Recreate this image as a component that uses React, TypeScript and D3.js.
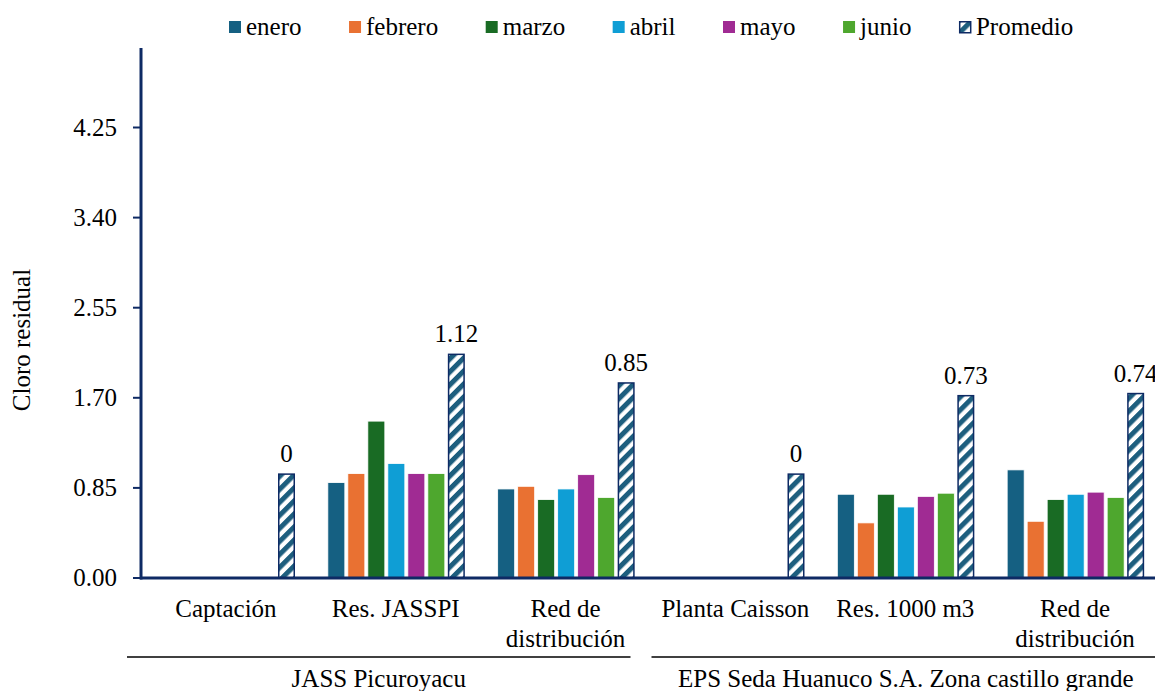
import React, { useLayoutEffect, useRef, useState } from "react";
import * as d3 from "d3";

const categories = ["Captación", "Res. JASSPI", "Red de distribución", "Planta Caisson", "Res. 1000 m3", "Red de distribución "];
const categoryLines = [["Captación"], ["Res. JASSPI"], ["Red de", "distribución"], ["Planta Caisson"], ["Res. 1000 m3"], ["Red de", "distribución"]];
const groups = ["JASS Picuroyacu", "EPS Seda Huanuco S.A. Zona castillo grande"];
const months = ["enero", "febrero", "marzo", "abril", "mayo", "junio"];
const enero = [0, 0.9, 0.84, 0, 0.79, 1.02];
const febrero = [0, 0.985, 0.865, 0, 0.52, 0.535];
const marzo = [0, 1.48, 0.74, 0, 0.79, 0.74];
const abril = [0, 1.08, 0.84, 0, 0.67, 0.79];
const mayo = [0, 0.985, 0.975, 0, 0.77, 0.81];
const junio = [0, 0.985, 0.76, 0, 0.8, 0.76];
const promedioBar = [0.98, 2.11, 1.84, 0.98, 1.72, 1.74];
const promedioLabel = ["0", "1.12", "0.85", "0", "0.73", "0.74"];
const yTicks = [0, 0.85, 1.7, 2.55, 3.4, 4.25];
const monthColors = ["#156082", "#E97132", "#196B24", "#0F9ED5", "#A02B93", "#4EA72E"];

const monthValues = [enero, febrero, marzo, abril, mayo, junio];
const series = [...months, "Promedio"];

const W = 1155;
const H = 691;
const FONT = "Liberation Serif";
const FS = 25;
const NAVY = "#0E2A64";
const tStyle = { fontFamily: FONT, fontSize: FS };

export default function App() {
  const y = d3.scaleLinear().domain([0, 5]).range([578, 48]);
  const x0 = d3.scaleBand<string>().domain(categories).range([141, 1160]).padding(0);
  const x1 = d3.scaleBand<string>().domain(series).range([17, 154]).paddingInner(0.15);
  const bw = x1.bandwidth();

  const legendRefs = useRef<(SVGTextElement | null)[]>([]);
  const [legendX, setLegendX] = useState<number[]>(series.map((_, i) => 229 + i * 120));
  useLayoutEffect(() => {
    let lx = 229;
    const xs: number[] = [];
    series.forEach((s, i) => {
      xs.push(lx);
      const el = legendRefs.current[i];
      const w = el ? el.getComputedTextLength() : s.length * 11;
      lx += 12 + 5 + w + 47.5;
    });
    setLegendX(xs);
  }, []);

  const band = x0.bandwidth();
  const leftStart = (x0(categories[0]) as number) - 14;
  const leftEnd = (x0(categories[2]) as number) + band - 20;
  const rightStart = (x0(categories[3]) as number) + 1;
  const rightEnd = (x0(categories[5]) as number) + band;

  return (
    <svg width={W} height={H} style={{ position: "absolute", left: 0, top: 0, background: "#fff" }}>
      <defs>
        <pattern id="hatch" patternUnits="userSpaceOnUse" width={9.2} height={9.2} patternTransform="rotate(45)">
          <rect x={0} y={0} width={9.2} height={9.2} fill="#fff" />
          <rect x={0} y={0} width={5} height={9.2} fill="#1D5E7E" />
        </pattern>
      </defs>

      {series.map((s, i) => (
        <g key={s}>
          {i < 6 ? (
            <rect x={legendX[i]} y={21} width={12} height={12} fill={monthColors[i]} />
          ) : (
            <rect x={legendX[i] + 0.75} y={21.75} width={11} height={11} fill="url(#hatch)" stroke={NAVY} strokeWidth={1.5} />
          )}
          <text
            ref={(el) => {
              legendRefs.current[i] = el;
            }}
            x={legendX[i] + 17}
            y={35}
            style={tStyle}
            fill="#000"
          >
            {s}
          </text>
        </g>
      ))}

      <line x1={141} x2={141} y1={y(5)} y2={579.5} stroke={NAVY} strokeWidth={3} />
      {yTicks.map((t) => (
        <g key={t}>
          <line x1={133} x2={141} y1={y(t)} y2={y(t)} stroke={NAVY} strokeWidth={2} />
          <text x={117} y={y(t) + 8} textAnchor="end" style={tStyle} fill="#000">
            {t.toFixed(2)}
          </text>
        </g>
      ))}
      <text transform={`translate(30,${340}) rotate(-90)`} textAnchor="middle" style={tStyle} fill="#000">
        Cloro residual
      </text>

      {categories.map((c, ci) => {
        const gx = x0(c) as number;
        return (
          <g key={c} transform={`translate(${gx},0)`}>
            {months.map((m, mi) => {
              const v = monthValues[mi][ci];
              if (v <= 0) return null;
              return (
                <rect
                  key={m}
                  x={x1(m) as number}
                  y={y(v)}
                  width={bw}
                  height={y(0) - y(v)}
                  fill={monthColors[mi]}
                  stroke="#fff"
                  strokeWidth={0.8}
                />
              );
            })}
            <rect
              x={(x1("Promedio") as number) + 0.75}
              y={y(promedioBar[ci])}
              width={bw - 1.5}
              height={y(0) - y(promedioBar[ci])}
              fill="url(#hatch)"
              stroke={NAVY}
              strokeWidth={1.5}
            />
            <text
              x={(x1("Promedio") as number) + bw / 2}
              y={y(promedioBar[ci]) - 12}
              textAnchor="middle"
              style={tStyle}
              fill="#000"
            >
              {promedioLabel[ci]}
            </text>
          </g>
        );
      })}

      <line x1={140} x2={W} y1={578} y2={578} stroke={NAVY} strokeWidth={3} />

      {categories.map((c, ci) => {
        const cx = (x0(c) as number) + band / 2;
        return (
          <text key={c} textAnchor="middle" style={tStyle} fill="#000">
            {categoryLines[ci].map((ln, li) => (
              <tspan key={li} x={cx} y={617 + li * 30}>
                {ln}
              </tspan>
            ))}
          </text>
        );
      })}

      <line x1={leftStart} x2={leftEnd} y1={657} y2={657} stroke="#000" strokeWidth={1.5} />
      <line x1={rightStart} x2={rightEnd} y1={657} y2={657} stroke="#000" strokeWidth={1.5} />
      <text x={(leftStart + leftEnd) / 2} y={687} textAnchor="middle" style={tStyle} fill="#000">
        {groups[0]}
      </text>
      <text x={(rightStart + rightEnd) / 2} y={687} textAnchor="middle" style={tStyle} fill="#000">
        {groups[1]}
      </text>
    </svg>
  );
}
